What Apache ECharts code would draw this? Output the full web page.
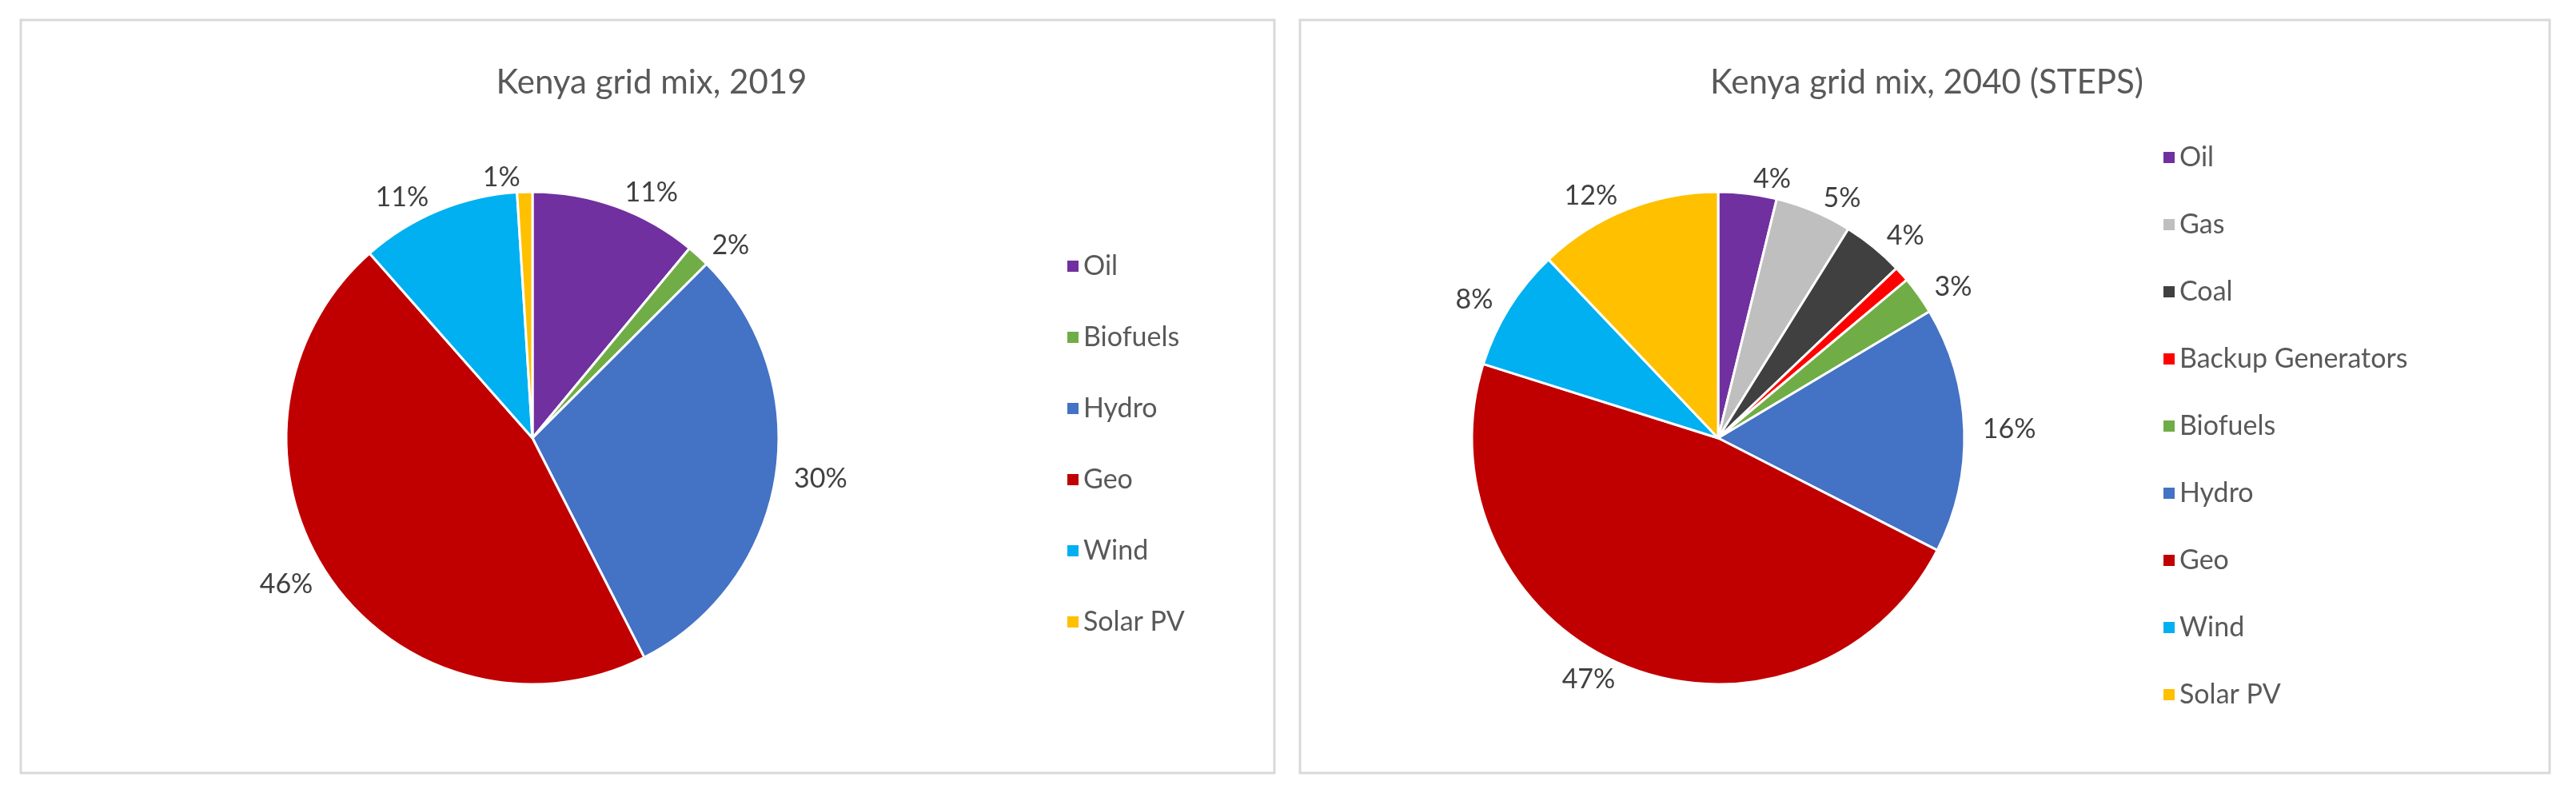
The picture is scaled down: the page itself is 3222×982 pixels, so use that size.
<!DOCTYPE html>
<html><head><meta charset="utf-8">
<script src="https://cdn.jsdelivr.net/npm/echarts@6/dist/echarts.min.js"></script>
<style>html,body{margin:0;padding:0;background:#fff}#c{width:3222px;height:982px}</style>
</head><body><div id="c"></div>
<script>
const cats2019 = ['Oil','Biofuels','Hydro','Geo','Wind','Solar PV'];
const vals2019 = [11, 1.5, 30, 46, 10.5, 1];
const cols2019 = ['#7030A0','#70AD47','#4472C4','#C00000','#00B0F0','#FFC000'];
const cats2040 = ['Oil','Gas','Coal','Backup Generators','Biofuels','Hydro','Geo','Wind','Solar PV'];
const vals2040 = [3.8, 5, 4, 1, 2.5, 16, 47, 8, 12];
const cols2040 = ['#7030A0','#BFBFBF','#404040','#FF0000','#70AD47','#4472C4','#C00000','#00B0F0','#FFC000'];
const F = 'Lato, "Noto Sans", sans-serif';
function mk(cats, vals, cols){return cats.map((n,i)=>({name:n,value:vals[i],itemStyle:{color:cols[i]}}));}
const lbl = {show:true,position:'outside',formatter:p=>Math.round(p.value)+'%',fontSize:34,color:'#404040',fontFamily:F};
const chart = echarts.init(document.getElementById('c'));
chart.setOption({
  animation:false,
  graphic:[
    {type:'rect',shape:{x:26,y:25,width:1568,height:942},style:{fill:'none',stroke:'#D9D9D9',lineWidth:3}},
    {type:'rect',shape:{x:1626,y:25,width:1563,height:942},style:{fill:'none',stroke:'#D9D9D9',lineWidth:3}}
  ],
  title:[
    {text:'Kenya grid mix, 2019',left:810,top:98,textAlign:'center',textVerticalAlign:'middle',textStyle:{fontSize:42,fontWeight:'normal',color:'#595959',fontFamily:F}},
    {text:'Kenya grid mix, 2040 (STEPS)',left:2405,top:98,textAlign:'center',textVerticalAlign:'middle',textStyle:{fontSize:42,fontWeight:'normal',color:'#595959',fontFamily:F}}
  ],
  legend:[
    {data:cats2019,orient:'vertical',left:1328,top:311,icon:'rect',itemWidth:16,itemHeight:16,itemGap:55,textStyle:{fontSize:34,color:'#595959',fontFamily:F,height:34,lineHeight:34}},
    {data:cats2040,orient:'vertical',left:2699,top:175,icon:'rect',itemWidth:16,itemHeight:16,itemGap:50,textStyle:{fontSize:34,color:'#595959',fontFamily:F,height:34,lineHeight:34}}
  ],
  series:[
    {type:'pie',center:[666,548],radius:[0,308],startAngle:90,clockwise:true,data:mk(cats2019,vals2019,cols2019),
     itemStyle:{borderColor:'#fff',borderWidth:3},label:lbl,labelLine:{show:false,length:18,length2:0},avoidLabelOverlap:false},
    {type:'pie',center:[2149,548],radius:[0,308],startAngle:90,clockwise:true,data:mk(cats2040,vals2040,cols2040),
     itemStyle:{borderColor:'#fff',borderWidth:3},label:lbl,labelLine:{show:false,length:18,length2:0},avoidLabelOverlap:false}
  ]
});
</script></body></html>
